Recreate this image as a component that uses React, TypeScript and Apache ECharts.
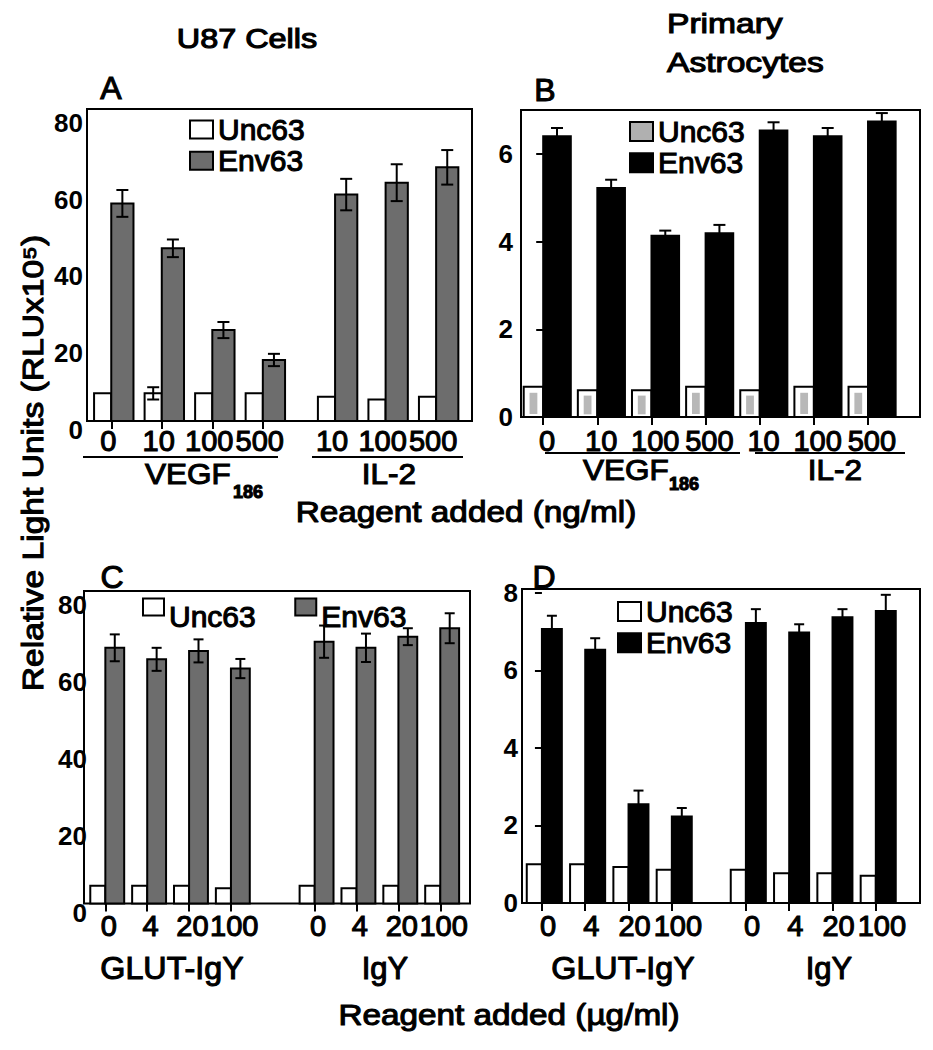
import React, { useEffect, useRef } from "react";
import * as echarts from "echarts";

// ---------- data ----------
const doseAB = ["0", "10", "100", "500", "10", "100", "500"];
const doseCD = ["0", "4", "20", "100", "0", "4", "20", "100"];

const uncA = [7.2, 7.2, 7.2, 7.2, 6.3, 5.6, 6.3];
const uncErrA = [0, 1.6, 0, 0, 0, 0, 0];
const envA = [56.7, 45.0, 23.7, 15.9, 59.0, 62.1, 66.1];
const envErrA = [3.5, 2.3, 2.1, 1.6, 4.1, 4.8, 4.5];

const uncB = [0.69, 0.61, 0.61, 0.69, 0.61, 0.69, 0.69];
const uncErrB = [0, 0, 0, 0, 0, 0, 0];
const envB = [6.4, 5.22, 4.13, 4.19, 6.53, 6.4, 6.74];
const envErrB = [0.19, 0.19, 0.12, 0.19, 0.19, 0.19, 0.19];

const uncC = [4.6, 4.6, 4.6, 4.0, 4.6, 4.0, 4.6, 4.6];
const uncErrC = [0, 0, 0, 0, 0, 0, 0, 0];
const envC = [66.6, 63.6, 65.8, 61.2, 68.2, 66.6, 69.5, 71.7];
const envErrC = [3.5, 3.0, 3.0, 2.5, 4.2, 3.7, 2.2, 3.9];

const uncD = [1.0, 1.0, 0.93, 0.86, 0.86, 0.77, 0.77, 0.7];
const uncErrD = [0, 0, 0, 0, 0, 0, 0, 0];
const envD = [7.07, 6.53, 2.55, 2.23, 7.22, 6.98, 7.37, 7.53];
const envErrD = [0.34, 0.3, 0.35, 0.22, 0.36, 0.21, 0.21, 0.42];

const FONT = "Liberation Sans, Arial, Helvetica, sans-serif";
const GRAY = "#6d6d6d";
const THICK = 1.1;

type Panel = {
  grid: { left: number; top: number; width: number; height: number };
  xMin: number; xMax: number; split: number; gap: number; labelShift: number;
  yMax: number; interval: number;
  labels: string[];
  unc: number[]; uncErr: number[]; env: number[]; envErr: number[];
  uncW: number; envW: number; envColor: string; uncInner: boolean;
  tickCount: number; yLabelLow: boolean; yLabelMargin: number; yTick: boolean;
  xLabelMargin: number; cap: number;
};

const panels: Panel[] = [
  {
    grid: { left: 87, top: 109, width: 385, height: 312 },
    xMin: -0.48, xMax: 7.14, split: 4, gap: 0.43, labelShift: -0.06, yMax: 81.3, interval: 20,
    labels: doseAB, unc: uncA, uncErr: uncErrA, env: envA, envErr: envErrA,
    uncW: 0.34, envW: 0.44, envColor: GRAY, uncInner: false,
    tickCount: 4, yLabelLow: true, yLabelMargin: 4, yTick: false, xLabelMargin: 5, cap: 12,
  },
  {
    grid: { left: 521, top: 110, width: 399, height: 307 },
    xMin: -0.41, xMax: 6.96, split: 4, gap: 0, labelShift: 0.07, yMax: 7, interval: 2,
    labels: doseAB, unc: uncB, uncErr: uncErrB, env: envB, envErr: envErrB,
    uncW: 0.36, envW: 0.51, envColor: "#000", uncInner: true,
    tickCount: 7, yLabelLow: false, yLabelMargin: 8, yTick: true, xLabelMargin: 9, cap: 12,
  },
  {
    grid: { left: 84, top: 591, width: 386, height: 312.5 },
    xMin: -0.51, xMax: 8.71, split: 4, gap: 1.0, labelShift: 0.08, yMax: 81.4, interval: 20,
    labels: doseCD, unc: uncC, uncErr: uncErrC, env: envC, envErr: envErrC,
    uncW: 0.36, envW: 0.45, envColor: GRAY, uncInner: false,
    tickCount: 8, yLabelLow: true, yLabelMargin: -3, yTick: false, xLabelMargin: 8, cap: 10,
  },
  {
    grid: { left: 522, top: 589, width: 398, height: 314 },
    xMin: -0.46, xMax: 8.73, split: 4, gap: 0.71, labelShift: 0.14, yMax: 8.1, interval: 2,
    labels: doseCD, unc: uncD, uncErr: uncErrD, env: envD, envErr: envErrD,
    uncW: 0.35, envW: 0.46, envColor: "#000", uncInner: false,
    tickCount: 8, yLabelLow: false, yLabelMargin: 4, yTick: true, xLabelMargin: 8, cap: 10,
  },
];

const positions = (p: Panel) =>
  p.labels.map((_, i) => i + (i >= p.split ? p.gap : 0));

const makeRender =
  (side: "left" | "right", w: number, fill: string, cap: number, inner: boolean) =>
  (params: any, api: any) => {
    const x = api.value(0);
    const v = api.value(1);
    const e = api.value(2);
    const base = api.coord([x, 0]);
    const top = api.coord([x, v]);
    const unit = api.size([1, 0])[0];
    const bw = w * unit;
    const x0 = side === "left" ? base[0] - bw : base[0];
    const h = base[1] - top[1];
    const children: any[] = [
      {
        type: "rect",
        shape: { x: x0, y: top[1], width: bw, height: h },
        style: { fill, stroke: "#000", lineWidth: 2 },
      },
    ];
    if (inner) {
      children.push({
        type: "rect",
        shape: { x: x0 + bw * 0.3, y: top[1] + h * 0.2, width: bw * 0.4, height: h * 0.7 },
        style: { fill: "#b8b8b8" },
      });
    }
    if (e > 0) {
      const cx = x0 + bw / 2;
      const hi = api.coord([x, v + e])[1];
      const lo = api.coord([x, v - e])[1];
      const st = { stroke: "#000", lineWidth: 2 };
      children.push({ type: "line", shape: { x1: cx, y1: lo, x2: cx, y2: hi }, style: st });
      children.push({ type: "line", shape: { x1: cx - cap / 2, y1: hi, x2: cx + cap / 2, y2: hi }, style: st });
      children.push({ type: "line", shape: { x1: cx - cap / 2, y1: lo, x2: cx + cap / 2, y2: lo }, style: st });
    }
    return { type: "group", children };
  };

const txt = (
  text: string, x: number, y: number, fontSize: number,
  opts: { align?: string; scaleX?: number; weight?: string; rotation?: number } = {}
) => ({
  type: "text",
  x, y,
  scaleX: opts.scaleX ?? 1,
  rotation: opts.rotation ?? 0,
  silent: true,
  style: {
    text, fontSize, fontFamily: FONT, fontWeight: opts.weight ?? "normal", fill: "#000",
    stroke: "#000", lineWidth: THICK,
    textAlign: opts.align ?? "center", textVerticalAlign: "middle",
    align: opts.align ?? "center", verticalAlign: "middle",
  },
});

const hline = (x1: number, x2: number, y: number) => ({
  type: "line", silent: true,
  shape: { x1, y1: y, x2, y2: y }, style: { stroke: "#000", lineWidth: 2 },
});

function buildOption() {
  const grid = panels.map((p) => ({
    ...p.grid, show: true, borderColor: "#000", borderWidth: 2, backgroundColor: "transparent",
  }));
  const xAxis = panels.map((p, i) => {
    const pos = positions(p);
    const labelPos = pos.map((q) => q + p.labelShift);
    return {
      type: "value", gridIndex: i, min: p.xMin, max: p.xMax,
      axisLine: { show: false }, splitLine: { show: false },
      axisTick: {
        show: true, customValues: pos.slice(0, p.tickCount), length: 8,
        lineStyle: { color: "#000", width: 2 },
      },
      axisLabel: {
        customValues: labelPos, margin: p.xLabelMargin, fontSize: 29, color: "#000", fontFamily: FONT,
        textBorderColor: "#000", textBorderWidth: THICK,
        formatter: (v: number) => {
          const k = labelPos.findIndex((q) => Math.abs(q - v) < 1e-6);
          return k >= 0 ? p.labels[k] : "";
        },
      },
    };
  });
  const yAxis = panels.map((p, i) => ({
    type: "value", gridIndex: i, min: 0, max: p.yMax, interval: p.interval,
    axisLine: { show: false }, splitLine: { show: false },
    axisTick: { show: p.yTick, length: 7, lineStyle: { color: "#000", width: 2 } },
    axisLabel: {
      showMaxLabel: false, fontSize: 26, fontWeight: "bold", color: "#000", fontFamily: FONT,
      margin: p.yLabelMargin,
      verticalAlign: p.yLabelLow ? "top" : "middle",
      lineHeight: p.yLabelLow ? 18 : 26,
    },
  }));
  const series: any[] = [];
  panels.forEach((p, i) => {
    const pos = positions(p);
    series.push({
      type: "custom", name: "Unc63", xAxisIndex: i, yAxisIndex: i, silent: true,
      itemStyle: { color: "#fff" }, encode: { x: 0, y: 1 },
      data: p.unc.map((v, k) => [pos[k], v, p.uncErr[k]]),
      renderItem: makeRender("left", p.uncW, "#fff", p.cap, p.uncInner),
    });
    series.push({
      type: "custom", name: "Env63", xAxisIndex: i, yAxisIndex: i, silent: true,
      itemStyle: { color: p.envColor }, encode: { x: 0, y: 1 },
      data: p.env.map((v, k) => [pos[k], v, p.envErr[k]]),
      renderItem: makeRender("right", p.envW, p.envColor, p.cap, false),
    });
  });

  const legItem = (name: string, color: string) => ({
    name, itemStyle: { color, borderColor: "#000", borderWidth: 2 },
  });
  const legText = (lh: number) => ({
    fontSize: 30, lineHeight: lh, color: "#000", fontFamily: FONT,
    textBorderColor: "#000", textBorderWidth: THICK,
  });
  const legBase = {
    icon: "rect", selectedMode: false, padding: 0, itemGap: 0,
  };
  const legend = [
    {
      ...legBase, orient: "vertical", left: 189, top: 114, itemWidth: 23, itemHeight: 18,
      textStyle: legText(30),
      data: [legItem("Unc63", "#fff"), legItem("Env63", GRAY)],
    },
    {
      ...legBase, orient: "vertical", left: 629, top: 116, itemWidth: 23, itemHeight: 19,
      textStyle: legText(28),
      data: [legItem("Unc63", "#b0b0b0"), legItem("Env63", "#000")],
    },
    {
      ...legBase, orient: "horizontal", left: 142, top: 583, itemWidth: 21, itemHeight: 17, itemGap: 38,
      formatter: "{a|{name}}",
      textStyle: {
        ...legText(30),
        rich: {
          a: {
            fontSize: 30, lineHeight: 30, padding: [18, 0, 0, 0], color: "#000", fontFamily: FONT,
            textBorderColor: "#000", textBorderWidth: THICK,
          },
        },
      },
      data: [legItem("Unc63", "#fff"), legItem("Env63", GRAY)],
    },
    {
      ...legBase, orient: "vertical", left: 617, top: 596, itemWidth: 23, itemHeight: 19,
      textStyle: legText(27),
      data: [legItem("Unc63", "#fff"), legItem("Env63", "#000")],
    },
  ];

  const graphic = [
    txt("U87 Cells", 247, 38, 27, { scaleX: 1.2 }),
    txt("Primary", 667, 23, 28, { align: "left", scaleX: 1.2 }),
    txt("Astrocytes", 667, 62, 28, { align: "left", scaleX: 1.2 }),
    txt("A", 111, 88, 32),
    txt("B", 545, 90, 32),
    txt("C", 112, 577, 32),
    txt("D", 544, 577, 32),
    // panel A group labels
    hline(83, 278, 457),
    hline(312, 463, 457),
    txt("VEGF", 145, 474, 30, { align: "left", scaleX: 1.05 }),
    txt("186", 233, 492, 18, { align: "left", weight: "bold" }),
    txt("IL-2", 389, 474, 30, { scaleX: 1.05 }),
    // panel B group labels
    hline(545, 740, 453),
    hline(755, 905, 453),
    txt("VEGF", 583, 470, 30, { align: "left", scaleX: 1.05 }),
    txt("186", 669, 484, 18, { align: "left", weight: "bold" }),
    txt("IL-2", 835, 470, 30, { scaleX: 1.05 }),
    txt("Reagent added (ng/ml)", 466, 512, 30, { scaleX: 1.11 }),
    // panels C, D group labels
    txt("GLUT-IgY", 172, 968, 31, { scaleX: 1.04 }),
    txt("IgY", 385, 968, 31),
    txt("GLUT-IgY", 623, 968, 31, { scaleX: 1.04 }),
    txt("IgY", 829, 968, 31),
    txt("Reagent added (µg/ml)", 509, 1015, 30, { scaleX: 1.11 }),
    // y axis title
    txt("Relative Light Units (RLUx10⁵)", 33, 463, 30, { rotation: Math.PI / 2, scaleX: 1.12 }),
  ];

  return {
    animation: false,
    backgroundColor: "#fff",
    textStyle: { fontFamily: FONT },
    grid, xAxis, yAxis, series, legend, graphic,
  };
}

export default function App() {
  const ref = useRef<HTMLDivElement | null>(null);
  useEffect(() => {
    if (!ref.current) return;
    const chart = echarts.init(ref.current, undefined, { renderer: "svg" });
    chart.setOption(buildOption() as any);
    return () => chart.dispose();
  }, []);
  return (
    <div
      ref={ref}
      style={{ position: "fixed", left: 0, top: 0, width: 933, height: 1050, background: "#fff" }}
    />
  );
}
